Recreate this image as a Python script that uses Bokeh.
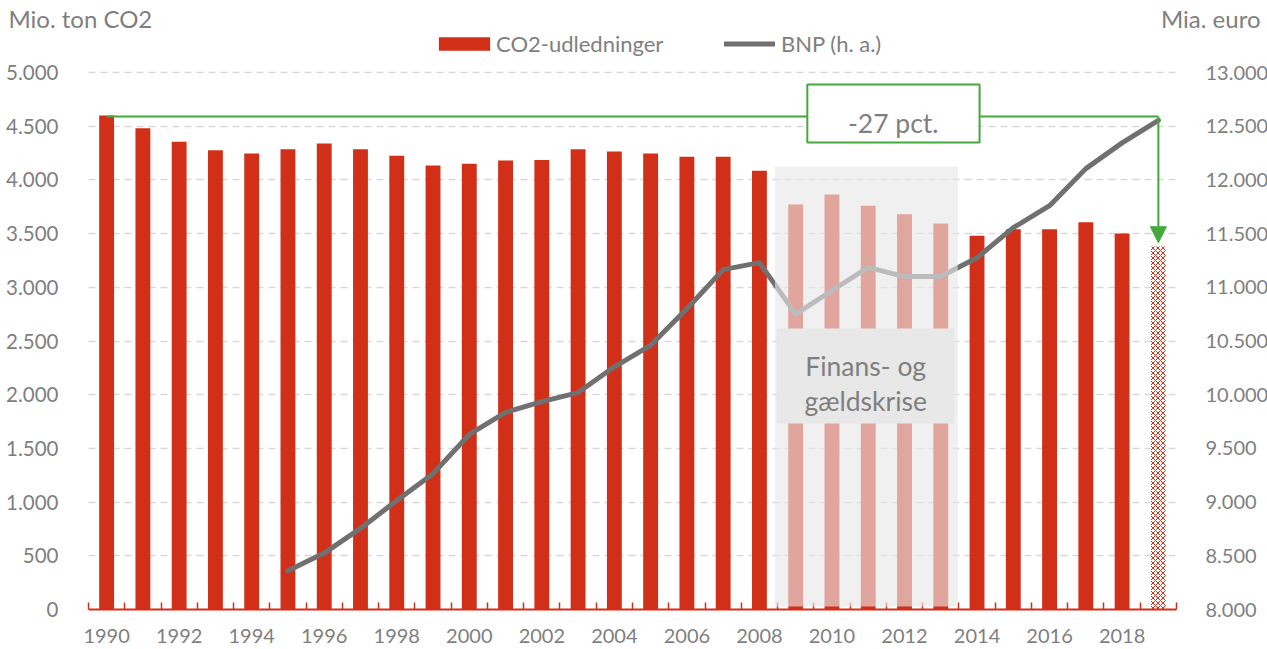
from bokeh.plotting import figure
from bokeh.models import (Range1d, LinearAxis, FixedTicker, BoxAnnotation, Label,
                          Legend, LegendItem, Arrow, NormalHead, ColumnDataSource)
from bokeh.embed import file_html
from bokeh.resources import INLINE

# ---------------- data ----------------
years = list(range(1990, 2020))
co2 = [4600, 4480, 4355, 4275, 4245, 4285, 4340, 4285, 4225, 4135,
       4150, 4180, 4185, 4285, 4265, 4245, 4215, 4215, 4085, 3770,
       3865, 3760, 3680, 3595, 3480, 3540, 3540, 3605, 3500, 3380]
bnp_years = list(range(1995, 2020))
bnp = [8360, 8525, 8755, 9015, 9265, 9630, 9835, 9935, 10020, 10260,
       10460, 10800, 11165, 11230, 10750, 10970, 11185, 11100, 11100, 11275,
       11555, 11760, 12105, 12345, 12555]
left_ticks = list(range(0, 5001, 500))
right_ticks = list(range(8000, 13001, 500))
x_label_years = list(range(1990, 2019, 2))
crisis_years = [2009, 2013]

FONT = "Lato"
TXT = "#7F7F7F"
RED = "#D22F19"
LINE = "#707070"
GREEN = "#45A83C"


def dk(v):
    return f"{v:,}".replace(",", ".")


X0, X1 = years[0] - 0.5, years[-1] + 0.5
Y_TOP, Y_BOT = 5670.4, -372.4
p = figure(width=1267, height=649, title=None,
           x_range=Range1d(1987.074, 2022.009), y_range=Range1d(Y_BOT, Y_TOP),
           output_backend="svg", toolbar_location=None,
           min_border_left=0, min_border_right=0, min_border_top=0,
           min_border_bottom=0)
p.extra_y_ranges = {"bnp": Range1d(8000 + Y_BOT, 8000 + Y_TOP)}
p.outline_line_color = None
p.background_fill_color = "white"

# grid
p.xgrid.visible = False
grid = p.ygrid[0]
if "cross_bounds" in grid.properties():
    grid.ticker = FixedTicker(ticks=left_ticks[1:])
    grid.cross_bounds = (X0, X1)
    grid.grid_line_color = "#D9D9D9"
    grid.grid_line_width = 1.5
    grid.grid_line_dash = "7 5"
else:
    grid.visible = False
    p.segment(x0=X0, x1=X1, y0=left_ticks[1:], y1=left_ticks[1:],
              line_color="#D9D9D9", line_width=1.5, line_dash="7 5")

# bars
solid = ColumnDataSource(dict(x=years[:-1], top=co2[:-1]))
last = ColumnDataSource(dict(x=years[-1:], top=co2[-1:]))
bars = p.vbar(x="x", top="top", width=0.41, source=solid,
              fill_color=RED, line_color=None)
p.vbar(x="x", top="top", width=0.41, source=last, fill_color="white",
       line_color=None, hatch_pattern="diagonal_cross", hatch_color=RED,
       hatch_scale=5, hatch_weight=1)

# BNP line
line = p.line(bnp_years, bnp, y_range_name="bnp", line_color=LINE,
              line_width=5, line_cap="round", line_join="round")

# axes
xa = p.xaxis[0]
xa.fixed_location = 0
xa.bounds = (X0, X1)
xa.ticker = FixedTicker(ticks=x_label_years,
                        minor_ticks=[y - 0.5 for y in years] + [X1])
xa.axis_line_color = RED
xa.axis_line_width = 2
xa.major_tick_line_color = None
xa.major_tick_in = 0
xa.major_tick_out = 0
xa.minor_tick_line_color = RED
xa.minor_tick_line_width = 1.5
xa.minor_tick_in = 7
xa.minor_tick_out = 0
xa.major_label_text_font = FONT
xa.major_label_text_font_size = "20px"
xa.major_label_text_color = TXT
xa.major_label_standoff = 19

ya = p.yaxis[0]
ya.fixed_location = X0
ya.ticker = FixedTicker(ticks=left_ticks)
ya.major_label_overrides = {t: dk(t) for t in left_ticks}
ya.axis_line_color = None
ya.major_tick_line_color = None
ya.minor_tick_line_color = None
ya.major_label_text_font = FONT
ya.major_label_text_font_size = "20.5px"
ya.major_label_text_color = TXT
ya.major_label_standoff = 24

ra = LinearAxis(y_range_name="bnp", ticker=FixedTicker(ticks=right_ticks),
                fixed_location=X1)
ra.major_label_overrides = {t: dk(t) for t in right_ticks}
ra.axis_line_color = None
ra.major_tick_line_color = None
ra.minor_tick_line_color = None
ra.major_label_text_font = FONT
ra.major_label_text_font_size = "20px"
ra.major_label_text_color = TXT
ra.major_label_standoff = 23
p.add_layout(ra, "right")

# green annotation: change from first to last year
change = round((co2[-1] / co2[0] - 1) * 100)
p.segment(x0=[years[0]], y0=[co2[0] - 10], x1=[years[-1]], y1=[co2[0] - 10],
          line_color=GREEN, line_width=2)
p.add_layout(Arrow(end=NormalHead(size=16, fill_color=GREEN, line_color=GREEN),
                   x_start=years[-1], y_start=co2[0] - 10,
                   x_end=years[-1], y_end=co2[-1] + 35,
                   line_color=GREEN, line_width=2))

# crisis overlay
p.add_layout(BoxAnnotation(left=crisis_years[0] - 0.57, right=crisis_years[1] + 0.47,
                           top=4125, bottom=28, fill_color="#E8E8E8",
                           fill_alpha=0.64, line_color=None))
p.add_layout(BoxAnnotation(left=crisis_years[0] - 0.52, right=crisis_years[1] + 0.38,
                           top=2616, bottom=1732, fill_color="#E8E8E8",
                           fill_alpha=1, line_color=None))
for txt, yy in (("Finans- og", 2263), ("gældskrise", 1946)):
    p.add_layout(Label(x=2010.93, y=yy, text=txt, text_align="center",
                       text_baseline="alphabetic", text_font=FONT,
                       text_font_size="26.5px", text_color=TXT))

p.add_layout(BoxAnnotation(left=2009.32, right=2014.07, top=4888, bottom=4348,
                           fill_color="white", fill_alpha=1,
                           line_color=GREEN, line_alpha=1, line_width=2))
p.add_layout(Label(x=2011.69, y=4534, text=f"{change} pct.", text_align="center",
                   text_baseline="alphabetic", text_font=FONT,
                   text_font_size="26.5px", text_color=TXT))

# axis titles
p.add_layout(Label(x=1987.294, y=5372, text="Mio. ton CO2", text_align="left",
                   text_font=FONT, text_font_size="24px", text_color=TXT))
p.add_layout(Label(x=2021.816, y=5372, text="Mia. euro", text_align="right",
                   text_font=FONT, text_font_size="24px", text_color=TXT))

# legends (two, so each swatch gets its own width)
common = dict(orientation="horizontal", padding=0, margin=0,
              border_line_color=None, background_fill_alpha=0,
              label_text_font=FONT, label_text_font_size="22px",
              label_text_color=TXT, label_height=24)
p.add_layout(Legend(items=[LegendItem(label="CO2-udledninger", renderers=[bars])],
                    location=(432, 592), glyph_width=64, glyph_height=17,
                    label_standoff=0, **common))
p.add_layout(Legend(items=[LegendItem(label="BNP (h. a.)", renderers=[line])],
                    location=(724, 592), glyph_width=51, glyph_height=17,
                    label_standoff=6, **common))

open("out.html", "w").write(file_html(p, INLINE))
